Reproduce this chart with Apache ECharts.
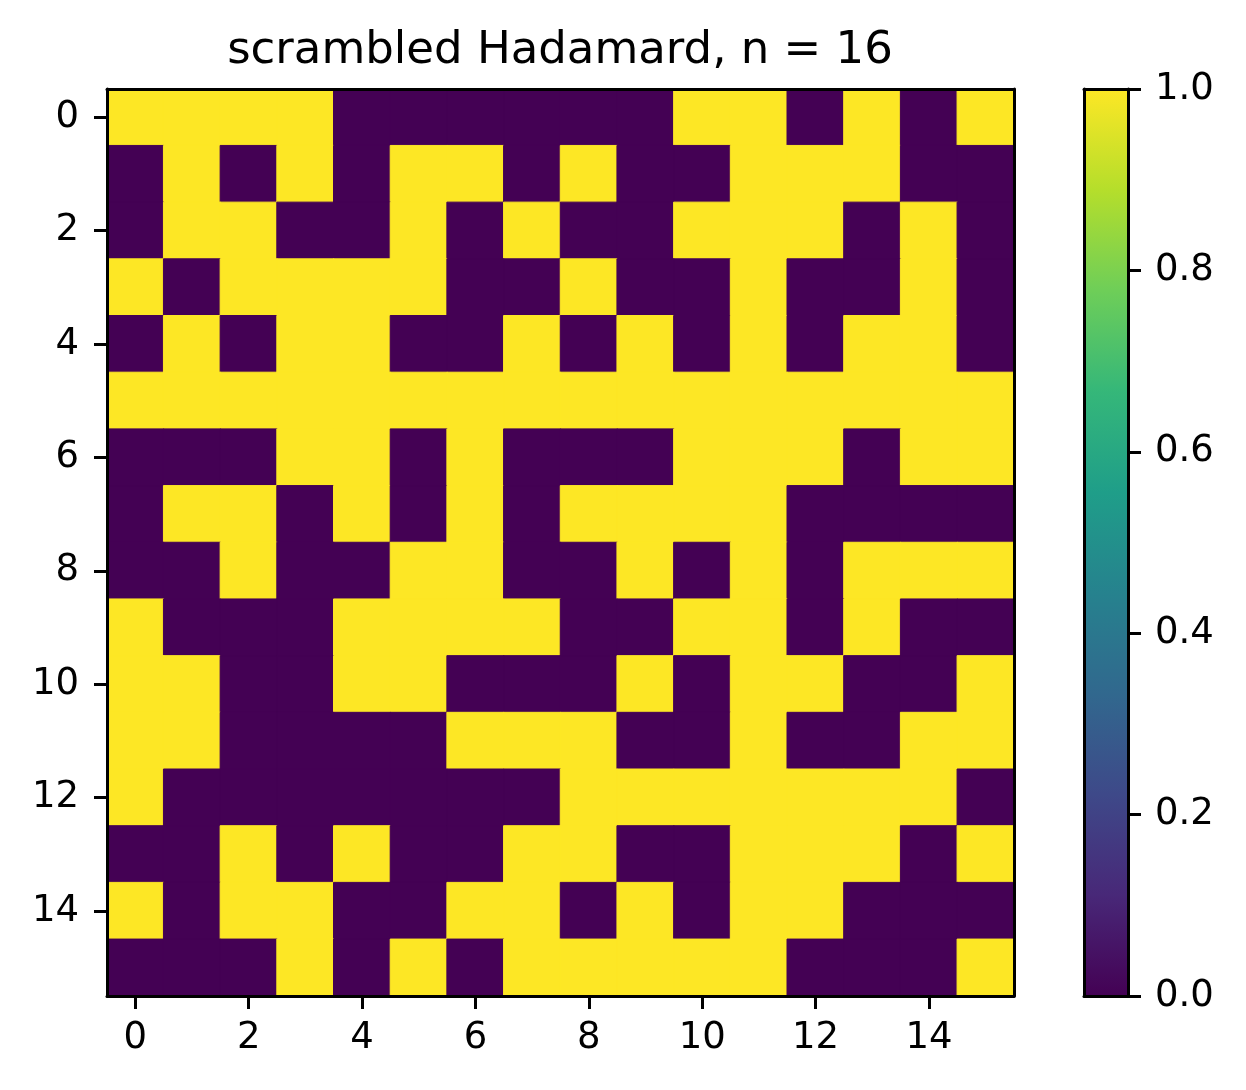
<!DOCTYPE html>
<html>
<head>
<meta charset="utf-8">
<title>scrambled Hadamard</title>
<script src="https://cdn.jsdelivr.net/npm/echarts@6/dist/echarts.min.js"></script>
<style>
	html, body { margin: 0; padding: 0; background: #fff; }
	#main { width: 1246px; height: 1090px; }
</style>
</head>
<body>
<div id="main"></div>
<script>
// 16x16 matrix, row 0 on top
var cols = ['0','1','2','3','4','5','6','7','8','9','10','11','12','13','14','15'];
var rows = [
	[1,1,1,1,0,0,0,0,0,0,1,1,0,1,0,1],
	[0,1,0,1,0,1,1,0,1,0,0,1,1,1,0,0],
	[0,1,1,0,0,1,0,1,0,0,1,1,1,0,1,0],
	[1,0,1,1,1,1,0,0,1,0,0,1,0,0,1,0],
	[0,1,0,1,1,0,0,1,0,1,0,1,0,1,1,0],
	[1,1,1,1,1,1,1,1,1,1,1,1,1,1,1,1],
	[0,0,0,1,1,0,1,0,0,0,1,1,1,0,1,1],
	[0,1,1,0,1,0,1,0,1,1,1,1,0,0,0,0],
	[0,0,1,0,0,1,1,0,0,1,0,1,0,1,1,1],
	[1,0,0,0,1,1,1,1,0,0,1,1,0,1,0,0],
	[1,1,0,0,1,1,0,0,0,1,0,1,1,0,0,1],
	[1,1,0,0,0,0,1,1,1,0,0,1,0,0,1,1],
	[1,0,0,0,0,0,0,0,1,1,1,1,1,1,1,0],
	[0,0,1,0,1,0,0,1,1,0,0,1,1,1,0,1],
	[1,0,1,1,0,0,1,1,0,1,0,1,1,0,0,0],
	[0,0,0,1,0,1,0,1,1,1,1,1,0,0,0,1]
];
var cbMin = 0;
var cbMax = 1;
var cbStep = 0.2;
var viridis = ['#440154','#482878','#3e4989','#31688e','#26828e','#1f9e89','#35b779','#6ece58','#b5de2b','#fde725'];

var FONT = 'DejaVu Sans';
var lineStyle = { color: '#000', width: 3 };

function cells(){
	// colour each cell and give it a same-colour hairline border so no seams show
	var out = [];
	for(var r=0;r<rows.length;r++){
		for(var c=0;c<rows[r].length;c++){
			var v = rows[r][c];
			var col = v >= 0.5 ? viridis[viridis.length-1] : viridis[0];
			out.push({
				value: [c, r, v],
				itemStyle: { color: col, borderColor: col, borderWidth: 1 }
			});
		}
	}
	return out;
}

function frameAxis(grid, type, pos, data){
	// only the spine line
	var a = {
		gridIndex: grid, type: type, position: pos, z: 10,
		axisLine: { show: true, onZero: false, lineStyle: lineStyle },
		axisTick: { show: false },
		axisLabel: { show: false },
		splitLine: { show: false }
	};
	if(type == 'category') a.data = data;
	else { a.min = cbMin; a.max = cbMax; }
	return a;
}

var stops = [];
for(var i=0;i<viridis.length;i++){
	stops.push({ offset: i/(viridis.length-1), color: viridis[i] });
}

var chart = echarts.init(document.getElementById('main'));
chart.setOption({
	animation: false,
	backgroundColor: '#fff',
	title: {
		text: 'scrambled Hadamard, n = 16',
		left: 555,
		top: 24,
		textAlign: 'center',
		textStyle: { fontFamily: FONT, fontSize: 45, fontWeight: 'normal', color: '#000' }
	},
	grid: [
		{ left: 107, top: 89, width: 907, height: 907 },
		{ left: 1084, top: 89, width: 44, height: 907 }
	],
	xAxis: [
		{
			gridIndex: 0, type: 'category', data: cols, position: 'bottom', z: 10,
			axisLine: { show: true, onZero: false, lineStyle: lineStyle },
			axisTick: { show: true, interval: 1, alignWithLabel: true, length: 13, lineStyle: lineStyle },
			axisLabel: { interval: 1, margin: 24, fontFamily: FONT, fontSize: 37, color: '#000' },
			splitLine: { show: false }
		},
		frameAxis(0, 'category', 'top', cols),
		frameAxis(1, 'category', 'bottom', ['cb']),
		frameAxis(1, 'category', 'top', ['cb'])
	],
	yAxis: [
		{
			gridIndex: 0, type: 'category', data: cols, inverse: true, position: 'left', z: 10,
			axisLine: { show: true, onZero: false, lineStyle: lineStyle },
			axisTick: { show: true, interval: 1, alignWithLabel: true, length: 13, lineStyle: lineStyle },
			axisLabel: { interval: 1, margin: 28, fontFamily: FONT, fontSize: 37, color: '#000' },
			splitLine: { show: false }
		},
		frameAxis(0, 'category', 'right', cols),
		{
			gridIndex: 1, type: 'value', min: cbMin, max: cbMax, interval: cbStep, position: 'right', z: 10,
			axisLine: { show: true, onZero: false, lineStyle: lineStyle },
			axisTick: { show: true, length: 13, lineStyle: lineStyle },
			axisLabel: {
				margin: 27, fontFamily: FONT, fontSize: 37, color: '#000',
				formatter: function(v){ return v.toFixed(1); }
			},
			splitLine: { show: false }
		},
		frameAxis(1, 'value', 'left')
	],
	series: [
		{
			type: 'heatmap',
			xAxisIndex: 0,
			yAxisIndex: 0,
			data: cells(),
			emphasis: { disabled: true },
			silent: true
		},
		{
			// colour bar
			type: 'bar',
			xAxisIndex: 2,
			yAxisIndex: 2,
			data: [cbMax],
			barWidth: '100%',
			silent: true,
			itemStyle: {
				color: { type: 'linear', x: 0, y: 1, x2: 0, y2: 0, colorStops: stops }
			}
		}
	]
});
</script>
</body>
</html>
